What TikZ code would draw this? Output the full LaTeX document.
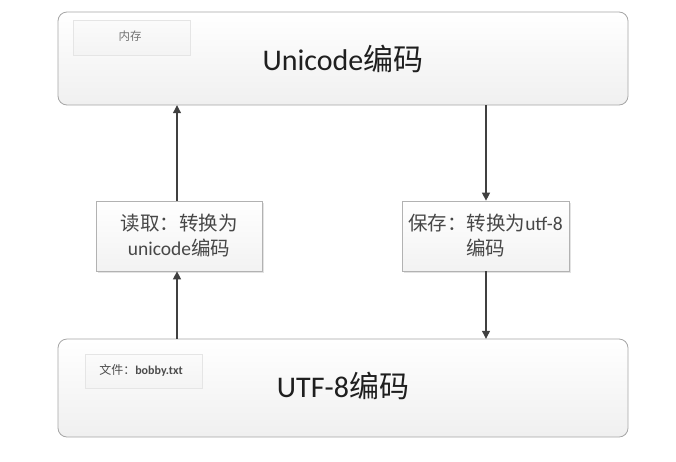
\documentclass[tikz,border=0pt]{standalone}
\usepackage{fontspec}
\setmainfont{Carlito}
\newfontfamily\cjk{Noto Sans CJK SC}
\usetikzlibrary{arrows.meta,shadows}
\begin{document}
\begin{tikzpicture}[x=1pt,y=-1pt,
  bigbox/.style={draw=gray!70,rounded corners=9pt,top color=white,bottom color=gray!12,line width=0.8pt},
  tagbox/.style={draw=gray!20,top color=gray!3,bottom color=gray!9,drop shadow={opacity=0.18,shadow xshift=1.2pt,shadow yshift=-1.2pt}},
  midbox/.style={draw=gray!60,top color=white,bottom color=gray!10,line width=0.7pt,drop shadow={opacity=0.22,shadow xshift=1.5pt,shadow yshift=-1.5pt}},
  conn/.style={draw=black!75,line width=1.1pt,-{Triangle[length=8pt,width=8pt]}}]
\useasboundingbox[fill=white] (0,0) rectangle (676,461);
% big boxes
\path[bigbox] (58,12) rectangle (628,105);
\node (top) at (343,58.5) [minimum width=570pt,minimum height=93pt,inner sep=0pt] {};
\path[bigbox] (58,339) rectangle (628,437);
\node (bot) at (343,388) [minimum width=570pt,minimum height=98pt,inner sep=0pt] {};
% tags
\path[tagbox] (73,20) rectangle (190,55);
\node (tagtop) at (130,36) [font=\fontsize{11.5}{13}\selectfont\cjk,text=black!55] {内存};
\path[tagbox] (85,354) rectangle (202,388);
\node (tagbot) at (141,370.5) [font=\fontsize{12}{14}\selectfont,text=black!70] {{\cjk 文件：}\textbf{bobby.txt}};
% main texts
\node (toptxt) at (343,59) [font=\fontsize{30}{34}\selectfont,text=black!88] {Unicode{\cjk 编码}};
\node (bottxt) at (343,386) [font=\fontsize{30}{34}\selectfont,text=black!88] {UTF-8{\cjk 编码}};
% middle boxes
\node (left) at (179,236) [midbox,minimum width=166pt,minimum height=70pt,align=center,font=\fontsize{19.5}{25}\selectfont,text=black!72,inner sep=0pt] {{\cjk 读取：转换为}\\unicode{\cjk 编码}};
\node (right) at (485.5,236) [midbox,minimum width=167pt,minimum height=70pt,align=center,font=\fontsize{19.5}{25}\selectfont,text=black!72,inner sep=0pt] {{\cjk 保存：转换为}utf-8\\{\cjk 编码}};
% connectors
\draw[conn] (bot.north -| 177,0) -- (left.south -| 177,0);
\draw[conn] (left.north -| 177,0) -- (top.south -| 177,0);
\draw[conn] (top.south -| 486,0) -- (right.north -| 486,0);
\draw[conn] (right.south -| 486,0) -- (bot.north -| 486,0);
\end{tikzpicture}
\end{document}
